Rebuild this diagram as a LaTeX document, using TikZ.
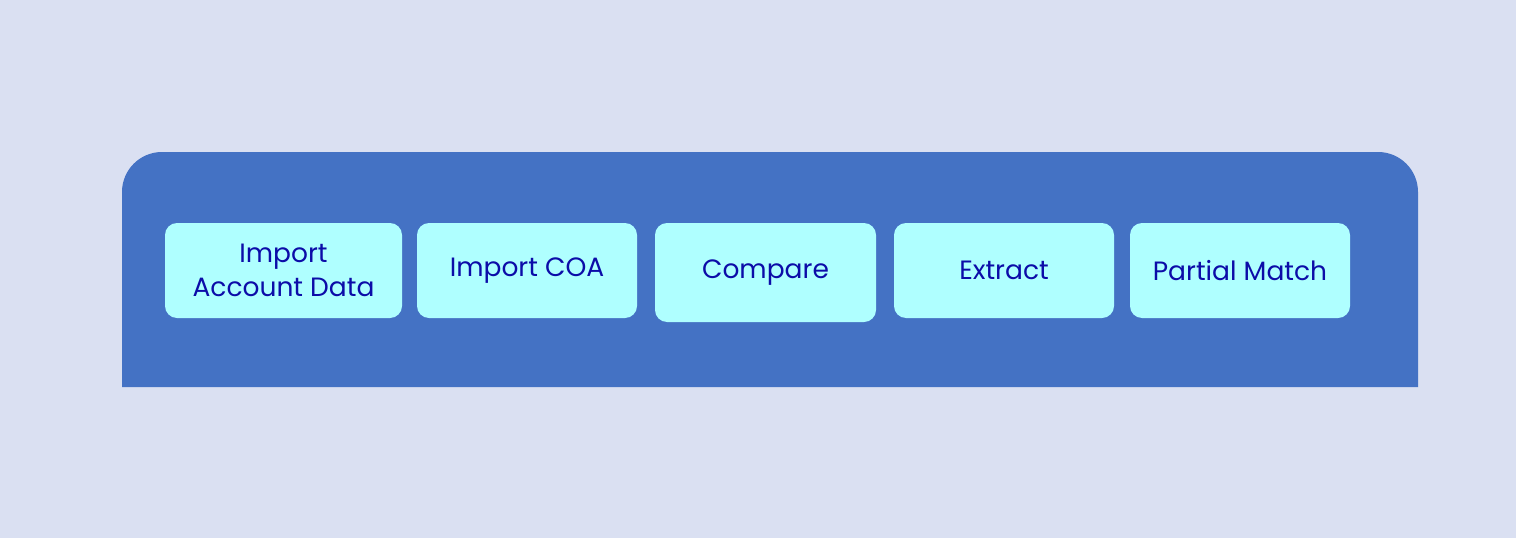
\documentclass[tikz,border=0pt]{standalone}
\usepackage{fontspec}
\setmainfont{Poppins}
\usetikzlibrary{positioning}
\definecolor{pagebg}{HTML}{DAE0F2}
\definecolor{panelblue}{HTML}{4472C4}
\definecolor{stepfill}{HTML}{AFFFFF}
\definecolor{steptext}{HTML}{0C0CA8}
\tikzset{
  stepbox/.style={fill=stepfill, text=steptext, rounded corners=12pt, align=center,
    minimum width=220pt, minimum height=95pt, inner sep=0pt,
    font=\fontsize{26.5pt}{34pt}\selectfont}
}

\begin{document}
\begin{tikzpicture}[x=1pt, y=-1pt]

  % page and panel
  \fill[pagebg] (0,0) rectangle (1516,538);
  \useasboundingbox (0,0) rectangle (1516,538);
  \fill[panelblue] (122,387) [rounded corners=40pt] -- (122,152) -- (1418,152) [sharp corners] -- (1418,387) -- cycle;

  % steps
  \node[stepbox, minimum width=237pt] (impacc) at (283.5,270.5) {Import\\Account Data};
  \node[stepbox] (impcoa) at (527,270.5) {\raisebox{-3pt}{Import COA}};
  \node[stepbox, minimum width=221pt, minimum height=99pt] (compare) at (765.5,272.5) {\raisebox{-3pt}{Compare}};
  \node[stepbox] (extract) at (1004,270.5) {\raisebox{-3pt}{Extract}};
  \node[stepbox] (partial) at (1240,270.5) {\raisebox{-3pt}{Partial Match}};

\end{tikzpicture}
\end{document}
